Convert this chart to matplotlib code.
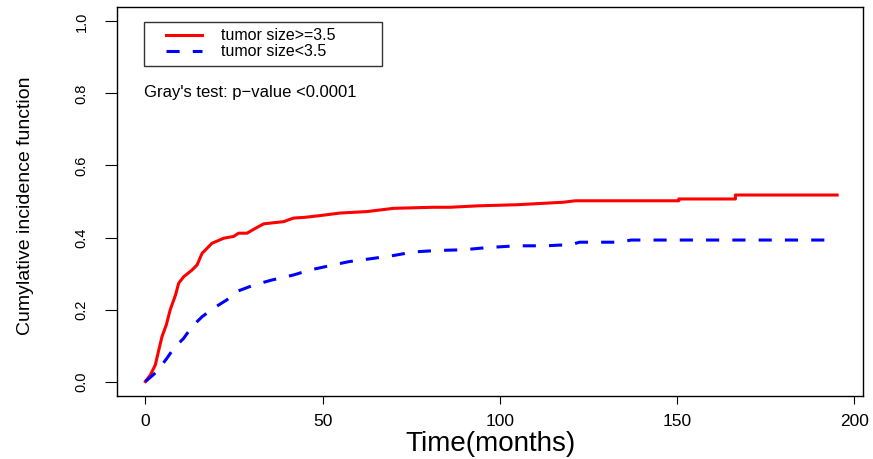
import numpy as np
import matplotlib
matplotlib.use("Agg")
import matplotlib.pyplot as plt
from matplotlib import font_manager
from matplotlib.legend_handler import HandlerLine2D

# Kurvenwerte
t_big = [0, 1.4, 2.8, 3.8, 4.7, 5.9, 7.0, 8.5, 9.4, 10.8, 13.2, 14.6, 16.0, 18.8,
         22.1, 24.9, 26.3, 28.7, 30.6, 33.4, 39.0, 41.8, 45.0, 49.4, 55.0, 62.5,
         70.0, 81.3, 86.0, 94.0, 104.8, 110.5, 118.0, 121.3, 150.5, 150.5, 166.5,
         166.5, 195.2]
cif_big = [0, 0.018, 0.046, 0.088, 0.125, 0.157, 0.199, 0.240, 0.273, 0.291, 0.310,
           0.324, 0.356, 0.384, 0.398, 0.403, 0.412, 0.412, 0.423, 0.438, 0.444,
           0.454, 0.456, 0.461, 0.468, 0.472, 0.481, 0.484, 0.484, 0.488, 0.491,
           0.494, 0.498, 0.502, 0.502, 0.507, 0.507, 0.518, 0.518]

t_small = [0, 3.3, 6.1, 8.0, 10.8, 13.2, 16.0, 19.3, 23.0, 26.3, 30.6, 35.7, 41.8,
           46.5, 51.7, 57.4, 63.5, 70.0, 75.7, 82.3, 89.8, 96.4, 104.8, 113.2,
           116.9, 119.7, 122.5, 133.8, 137.1, 193.1]
cif_small = [0, 0.028, 0.065, 0.092, 0.120, 0.153, 0.180, 0.204, 0.227, 0.252,
             0.268, 0.282, 0.296, 0.310, 0.321, 0.333, 0.341, 0.350, 0.360, 0.364,
             0.366, 0.372, 0.377, 0.377, 0.379, 0.379, 0.387, 0.387, 0.393, 0.393]

labels = ["tumor size>=3.5", "tumor size<3.5"]
x_ticks = [0, 50, 100, 150, 200]
y_ticks = [0.0, 0.2, 0.4, 0.6, 0.8, 1.0]

# Schriften
names = {f.name for f in font_manager.fontManager.ttflist}
narrow = "Liberation Sans Narrow" if "Liberation Sans Narrow" in names else "Liberation Sans"
plt.rcParams['font.family'] = ['Liberation Sans', 'DejaVu Sans']


class OffsetLine(HandlerLine2D):
    # Linie im Legendenfeld etwas nach rechts versetzt
    def get_xdata(self, legend, xdescent, ydescent, width, height, fontsize):
        xdata, xm = super().get_xdata(legend, xdescent, ydescent, width, height, fontsize)
        lead = 0.3 * width
        return np.array([-xdescent + lead, -xdescent + width]), xm


fig = plt.figure(figsize=(8.73, 4.59), dpi=100)
ax = fig.add_axes([117 / 873, 63 / 459, 746 / 873, 389 / 459])

ax.plot(t_big, cif_big, color='red', lw=2.2, label=labels[0])
ax.plot(t_small, cif_small, color='blue', lw=2.2, ls=(0, (4.3, 4.3)), label=labels[1])

ax.set_xlim(-8, 202.5)
ax.set_ylim(-0.04, 1.04)
ax.set_xticks(x_ticks)
ax.set_xticklabels([str(v) for v in x_ticks])
ax.set_yticks(y_ticks)
ax.set_yticklabels([f"{v:.1f}" for v in y_ticks], va='center')

for s in ax.spines.values():
    s.set_linewidth(1.0)
ax.tick_params(axis='x', length=5.8, width=0.8, pad=7.5, labelsize=12.5)
ax.tick_params(axis='y', length=8.6, width=0.8, pad=12, labelrotation=90,
               labelsize=11 if narrow != "Liberation Sans" else 10.5,
               labelfontfamily=narrow)

ax.set_xlabel('Time(months)', fontsize=20)
ax.xaxis.label.set_va('center')
ax.xaxis.set_label_coords(0.5004, -0.123)

ax.set_ylabel('Cumylative incidence function', family=narrow,
              fontsize=16.5 if narrow != "Liberation Sans" else 14)
ax.yaxis.label.set_va('center')
ax.yaxis.set_label_coords(-0.123, 0.49)

leg = ax.legend(loc='upper left', bbox_to_anchor=(0.0366, 0.0, 0.319, 0.9614),
                mode='expand', borderaxespad=0, fontsize=11.5, frameon=True,
                fancybox=False, edgecolor='black', borderpad=0.4, labelspacing=0.05,
                handlelength=3.2, handletextpad=1.2,
                handler_map={matplotlib.lines.Line2D: OffsetLine()})
leg.get_frame().set_linewidth(1.0)

ax.text(0.0366, 0.779, "Gray's test: p\u2212value <0.0001", transform=ax.transAxes,
        fontsize=12, ha='left', va='center')

plt.savefig('out.png', dpi=100)
